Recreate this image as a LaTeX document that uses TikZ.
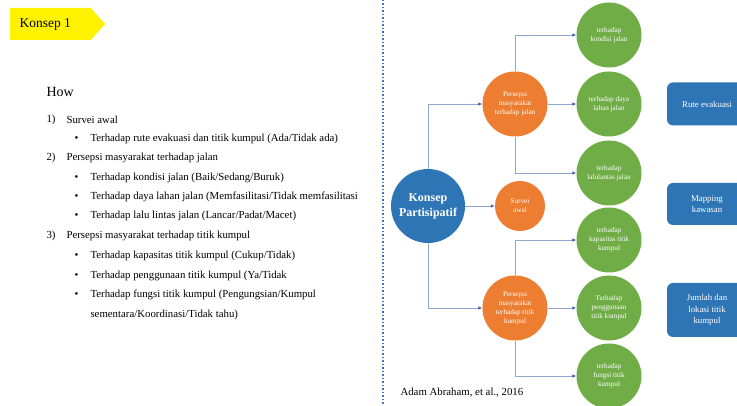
\documentclass[tikz,border=0pt]{standalone}
\usepackage{fontspec}
\setmainfont{Liberation Serif}
\usetikzlibrary{arrows.meta,positioning,shapes.symbols}

\definecolor{ppblue}{HTML}{2E75B6}
\definecolor{pporange}{HTML}{ED7D31}
\definecolor{ppgreen}{HTML}{70AD47}
\definecolor{linegray}{HTML}{8FA8CC}
\definecolor{tipblue}{HTML}{4060A8}
\definecolor{dotblue}{HTML}{4472C4}

\tikzset{
  circ/.style={circle, text=white, align=center, inner sep=0pt, font=\fontsize{7.2}{9}\selectfont},
  konsepcirc/.style={circ, fill=ppblue, minimum size=74pt, font=\bfseries\fontsize{12}{15}\selectfont},
  orangecirc/.style={circ, fill=pporange, minimum size=65pt},
  smallcirc/.style={circ, fill=pporange, minimum size=50pt},
  greencirc/.style={circ, fill=ppgreen, minimum size=65pt},
  hasil/.style={rectangle, rounded corners=6pt, fill=ppblue, text=white, align=center, minimum width=80pt, font=\fontsize{8.8}{11.5}\selectfont},
  conn/.style={draw=linegray, line width=0.7pt, -{Latex[length=4pt,width=3.5pt,color=tipblue]}},
  tagbox/.style={signal, signal to=east, signal pointer angle=95, fill=yellow, minimum width=95pt, minimum height=32pt, inner sep=0pt},
  isi/.style={anchor=west, font=\fontsize{10.8}{12}\selectfont},
}

\begin{document}
\begin{tikzpicture}[x=1pt,y=1pt,node distance=94pt,on grid]
\useasboundingbox (0,0) rectangle (737,406);

% judul
\node[tagbox] (tag) at (10,382) [anchor=west] {};
\node[anchor=west, font=\fontsize{13.5}{16}\selectfont] (tagtext) at (16,382) {Konsep 1};

% daftar kiri
\node[anchor=west, font=\fontsize{14}{16}\selectfont] (how) at (43,314) {How};
\node[isi] (n1) at (43,286) {1)};
\node[isi] (t1) at (63,286) {Survei awal};
\node[isi] (b1) at (71,267) {\textbullet};
\node[isi] (s1) at (87,267) {Terhadap rute evakuasi dan titik kumpul (Ada/Tidak ada)};
\node[isi] (n2) at (43,248) {2)};
\node[isi] (t2) at (63,248) {Persepsi masyarakat terhadap jalan};
\node[isi] (b2) at (71,228) {\textbullet};
\node[isi] (s2) at (87,228) {Terhadap kondisi jalan (Baik/Sedang/Buruk)};
\node[isi] (b3) at (71,209) {\textbullet};
\node[isi] (s3) at (87,209) {Terhadap daya lahan jalan (Memfasilitasi/Tidak memfasilitasi};
\node[isi] (b4) at (71,190) {\textbullet};
\node[isi] (s4) at (87,190) {Terhadap lalu lintas jalan (Lancar/Padat/Macet)};
\node[isi] (n3) at (43,170) {3)};
\node[isi] (t3) at (63,170) {Persepsi masyarakat terhadap titik kumpul};
\node[isi] (b5) at (71,150) {\textbullet};
\node[isi] (s5) at (87,150) {Terhadap kapasitas titik kumpul (Cukup/Tidak)};
\node[isi] (b6) at (71,130) {\textbullet};
\node[isi] (s6) at (87,130) {Terhadap penggunaan titik kumpul (Ya/Tidak};
\node[isi] (b7) at (71,111) {\textbullet};
\node[isi] (s7) at (87,111) {Terhadap fungsi titik kumpul (Pengungsian/Kumpul};
\node[isi] (s8) at (87,91) {sementara/Koordinasi/Tidak tahu)};

% garis pemisah
\coordinate (sepTop) at (383,406);
\coordinate (sepBot) at (383,0);
\draw[dotblue, line width=1.5pt, dotted] (sepTop) -- (sepBot);

% diagram
\node[konsepcirc] (konsep) at (428,200) {Konsep\\Partisipatif};
\node[orangecirc] (jalan) [above right=102pt and 87pt of konsep] {Persepsi\\masyarakat\\terhadap jalan};
\node[smallcirc] (survei) [right=92pt of konsep] {Survei\\awal};
\node[orangecirc] (titik) [below right=102pt and 87pt of konsep] {Persepsi\\masyarakat\\terhadap titik\\kumpul};

\node[greencirc] (kondisi) [above right=69pt and 94pt of jalan] {terhadap\\kondisi jalan};
\node[greencirc] (daya) [right=of jalan] {terhadap daya\\lahan jalan};
\node[greencirc] (lalin) [below right=69pt and 94pt of jalan] {terhadap\\lalulantas jalan};
\node[greencirc] (kapasitas) [above right=68pt and 94pt of titik] {terhadap\\kapasitas titik\\kumpul};
\node[greencirc] (guna) [right=of titik] {Terhadap\\penggunaan\\titik kumpul};
\node[greencirc] (fungsi) [below right=68pt and 94pt of titik] {terhadap\\fungsi titik\\kumpul};

\node[hasil, minimum height=43pt] (rute) [right=98pt of daya] {Rute evakuasi};
\node[hasil, minimum height=42pt] (mapping) [below=100pt of rute] {Mapping\\kawasan};
\node[hasil, minimum height=54pt] (jumlah) [below=106pt of mapping] {Jumlah dan\\lokasi titik\\kumpul};

\node[anchor=west, font=\fontsize{10.8}{13}\selectfont] (sumber) at (397,13) {Adam Abraham, et al., 2016};

\draw[conn] (konsep) |- (jalan);
\draw[conn] (konsep) -- (survei);
\draw[conn] (konsep) |- (titik);
\draw[conn] (jalan) |- (kondisi);
\draw[conn] (jalan) -- (daya);
\draw[conn] (jalan) |- (lalin);
\draw[conn] (titik) |- (kapasitas);
\draw[conn] (titik) -- (guna);
\draw[conn] (titik) |- (fungsi);
\end{tikzpicture}
\end{document}
